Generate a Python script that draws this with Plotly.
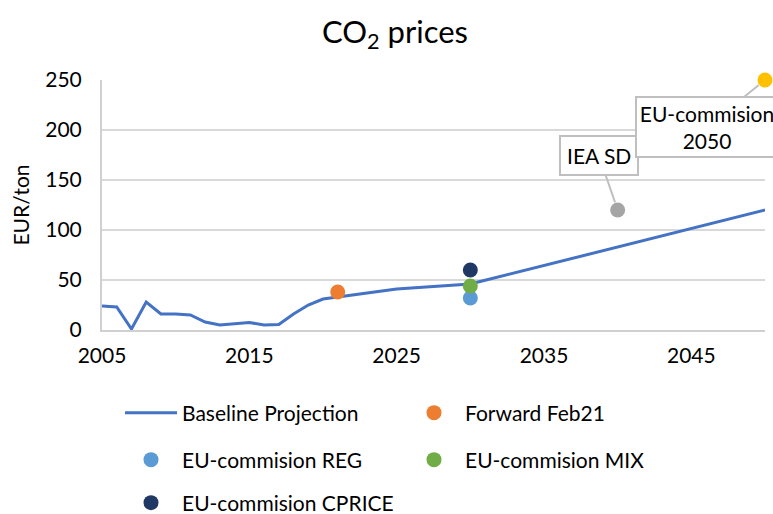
import plotly.graph_objects as go

years = list(range(2005, 2051))
baseline = [24, 23, 1, 28, 16, 16, 15, 8, 5, 6, 7.5, 5, 5.5, 16, 25, 31, 33, 35, 37, 39,
            41, 42, 43, 44, 45, 46, 49.7, 53.4, 57.1, 60.8, 64.5, 68.2, 71.9, 75.6, 79.3,
            83, 86.7, 90.4, 94.1, 97.8, 101.5, 105.2, 108.9, 112.6, 116.3, 120]

fwd_x, fwd_y = [2021], [38]
reg_x, reg_y = [2030], [32]
mix_x, mix_y = [2030], [44]
cprice_x, cprice_y = [2030], [60]
iea_x, iea_y = [2040], [120]
eu50_x, eu50_y = [2050], [250]

FONT = "Lato, 'Open Sans', sans-serif"
MS = 15
FS = 21

fig = go.Figure()
fig.add_trace(go.Scatter(x=years, y=baseline, mode="lines", name="Baseline Projection",
                         line=dict(color="#4472C4", width=3), legend="legend"))
fig.add_trace(go.Scatter(x=fwd_x, y=fwd_y, mode="markers", name="Forward Feb21",
                         marker=dict(color="#ED7D31", size=MS), legend="legend"))
fig.add_trace(go.Scatter(x=reg_x, y=reg_y, mode="markers", name="EU-commision REG",
                         marker=dict(color="#5B9BD5", size=MS), legend="legend2"))
fig.add_trace(go.Scatter(x=mix_x, y=mix_y, mode="markers", name="EU-commision MIX",
                         marker=dict(color="#70AD47", size=MS), legend="legend2"))
fig.add_trace(go.Scatter(x=cprice_x, y=cprice_y, mode="markers", name="EU-commision CPRICE",
                         marker=dict(color="#203864", size=MS), legend="legend3"))
fig.add_trace(go.Scatter(x=iea_x, y=iea_y, mode="markers", name="IEA SD",
                         marker=dict(color="#A5A5A5", size=MS), showlegend=False))
fig.add_trace(go.Scatter(x=eu50_x, y=eu50_y, mode="markers", name="EU-commision 2050",
                         marker=dict(color="#FFC000", size=MS), showlegend=False))
for t in fig.data:
    t.cliponaxis = False

legend_common = dict(orientation="h", xref="container", yref="container",
                     xanchor="left", yanchor="middle", entrywidth=216,
                     entrywidthmode="pixels", font=dict(size=FS, family=FONT, color="#000"),
                     bgcolor="rgba(0,0,0,0)", itemwidth=52)

fig.update_layout(
    width=773, height=514,
    paper_bgcolor="white", plot_bgcolor="white",
    margin=dict(l=102, r=8, t=80, b=184),
    font=dict(family=FONT, color="#000"),
    title=dict(text="CO<sub>2</sub> prices", x=0.511, xref="container", xanchor="center",
               y=1 - 32 / 514, yref="container", yanchor="middle",
               font=dict(size=31, family=FONT, color="#000")),
    xaxis=dict(range=[2005, 2050], tick0=2005, dtick=10, showgrid=False,
               showline=True, linecolor="#D0D0D0", linewidth=2, ticks="",
               ticklabelstandoff=6,
               tickfont=dict(size=FS, family=FONT, color="#000"), zeroline=False),
    yaxis=dict(range=[0, 250], dtick=50, showgrid=True, gridcolor="#D9D9D9", gridwidth=1.5,
               showline=True, linecolor="#D0D0D0", linewidth=2, ticks="",
               ticklabelstandoff=14,
               tickfont=dict(size=FS, family=FONT, color="#000"), zeroline=False,
               title=dict(text="EUR/ton", font=dict(size=FS, family=FONT, color="#000"), standoff=10)),
    legend=dict(x=120 / 773, y=1 - 413 / 514, **legend_common),
    legend2=dict(x=120 / 773, y=1 - 460 / 514, **legend_common),
    legend3=dict(x=120 / 773, y=1 - 503 / 514, **legend_common),
    showlegend=True,
)

fig.add_annotation(x=iea_x[0], y=iea_y[0], text="IEA SD", showarrow=True, arrowhead=0,
                   arrowcolor="#BFBFBF", arrowwidth=2, ax=-19, ay=-55, standoff=8,
                   bordercolor="#BFBFBF", borderwidth=2, bgcolor="white", borderpad=6,
                   font=dict(size=FS, family=FONT, color="#000"))
fig.add_annotation(x=eu50_x[0], y=eu50_y[0], text="EU-commision<br>2050", showarrow=True,
                   arrowhead=0, arrowcolor="#BFBFBF", arrowwidth=2, ax=-58, ay=47, standoff=8,
                   bordercolor="#BFBFBF", borderwidth=2, bgcolor="white", borderpad=3,
                   width=134, font=dict(size=FS, family=FONT, color="#000"))

fig.write_html("out.html", config={"displayModeBar": False},
               post_script="document.body.style.margin='0';")
